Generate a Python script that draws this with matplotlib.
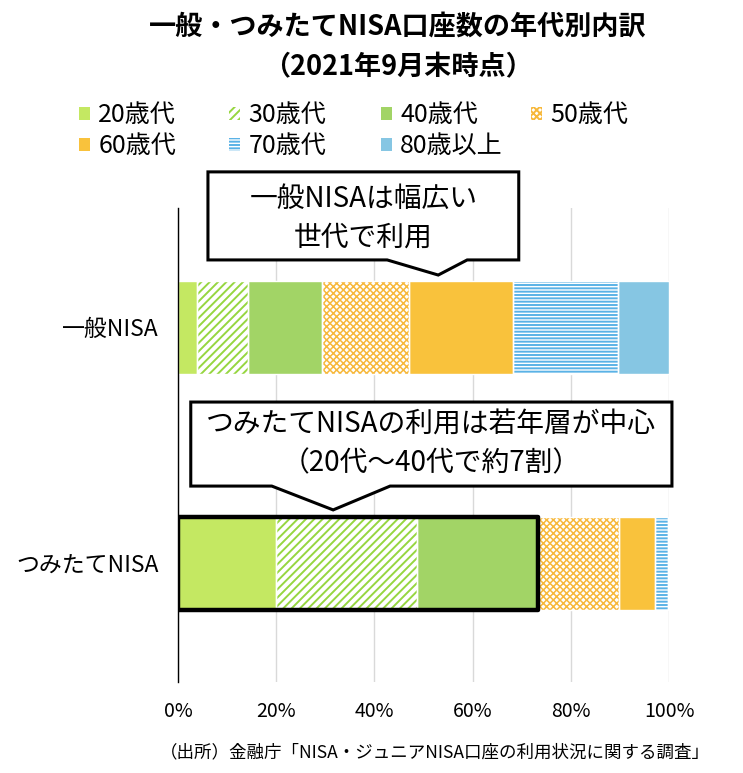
import matplotlib
matplotlib.use("Agg")
import matplotlib.pyplot as plt
from matplotlib.patches import Polygon, Patch

plt.rcParams['font.family'] = ['Noto Sans CJK JP', 'DejaVu Sans']
plt.rcParams['hatch.linewidth'] = 1.4

# ---- data ----
categories = ["一般NISA", "つみたてNISA"]
age_groups = ["20歳代", "30歳代", "40歳代", "50歳代", "60歳代", "70歳代", "80歳以上"]
general_nisa = [3.9, 10.4, 15.0, 17.7, 21.2, 21.5, 10.3]
tsumitate_nisa = [20.0, 28.7, 24.7, 16.4, 7.3, 2.6, 0.3]
xticks = [0, 20, 40, 60, 80, 100]
xtick_labels = ["0%", "20%", "40%", "60%", "80%", "100%"]

title = "一般・つみたてNISA口座数の年代別内訳\n（2021年9月末時点）"
callout1 = "一般NISAは幅広い\n世代で利用"
callout2 = "つみたてNISAの利用は若年層が中心\n（20代～40代で約7割）"
source = "（出所）金融庁「NISA・ジュニアNISA口座の利用状況に関する調査」"

# ---- styles ----
face = ["#C4E862", "white", "#A2D466", "white", "#F9C23C", "white", "#86C6E3"]
hatch_col = ["#C4E862", "#96D640", "#A2D466", "#F7B83A", "#F9C23C", "#5AB2E6", "#86C6E3"]
hatches = [None, "////", None, "xxxxx", None, "-----", None]
hatch_lw = [1.4, 1.4, 1.4, 1.1, 1.4, 1.4, 1.4]

W, H = 743, 773
fig = plt.figure(figsize=(W / 100, H / 100), dpi=100)
ax = fig.add_axes([178 / W, 1 - 682 / H, 491 / W, 474 / H])

series = [general_nisa, tsumitate_nisa]
ypos = list(range(len(categories)))
bar_h = 0.395


def set_hlw(p, lw):
    if hasattr(p, "set_hatch_linewidth"):
        try:
            p.set_hatch_linewidth(lw)
        except Exception:
            pass


handles = []
for i, lab in enumerate(age_groups):
    vals = [s[i] for s in series]
    lefts = [sum(s[:i]) for s in series]
    b = ax.barh(ypos, vals, left=lefts, height=bar_h, color=face[i],
                edgecolor=hatch_col[i], hatch=hatches[i], linewidth=0, zorder=2)
    for p in b:
        set_hlw(p, hatch_lw[i])
    ax.barh(ypos, vals, left=lefts, height=bar_h, fill=False,
            edgecolor="white", linewidth=1.0, zorder=3)
    hp = Patch(facecolor=face[i], edgecolor=hatch_col[i],
               hatch=hatches[i], linewidth=0, label=lab)
    set_hlw(hp, hatch_lw[i])
    handles.append(hp)

# thick outline around 20-40s of つみたてNISA
young = sum(tsumitate_nisa[:3])
ax.barh([1], [young], left=[0], height=bar_h, fill=False, edgecolor="black",
        linewidth=3.2, joinstyle="round", zorder=4)

ax.set_xlim(0, 100)
ax.set_ylim(1.502, -0.506)
ax.set_xticks(xticks)
ax.set_xticklabels(xtick_labels, fontsize=14)
ax.set_yticks(ypos)
ax.set_yticklabels(categories, fontsize=16.5)
ax.tick_params(axis="both", length=0)
ax.tick_params(axis="x", pad=14)
ax.tick_params(axis="y", pad=14)
ax.xaxis.grid(True, color="#D9D9D9", linewidth=1)
ax.set_axisbelow(True)
for s in ["top", "right", "bottom"]:
    ax.spines[s].set_visible(False)
ax.spines["left"].set_color("black")
ax.spines["left"].set_linewidth(1.0)
ax.spines["left"].set_zorder(5)


# ---- callouts ----
def callout(x0, x1, yt, yb, p0, p1, tx, ty, text, ty_text):
    pts = [(x0, yt), (x1, yt), (x1, yb), (p1, yb), (tx, ty), (p0, yb), (x0, yb)]
    poly = Polygon(pts, closed=True, facecolor="white", edgecolor="black",
                   linewidth=2.2, clip_on=False, zorder=6, joinstyle="miter")
    ax.add_patch(poly)
    ax.text((x0 + x1) / 2, ty_text, text, ha="center", va="center",
            fontsize=20, linespacing=1.35, zorder=7)


callout(6.1, 69.4, -0.659, -0.286, 42.6, 58.9, 53.0, -0.222, callout1, -0.462)
callout(2.6, 100.6, 0.316, 0.672, 19.1, 43.2, 31.6, 0.773, callout2, 0.494)

# ---- title ----
fig.text(398 / W, 1 - 47 / H, title, ha="center", va="center", fontsize=19.5,
         fontweight="bold", linespacing=1.55)

# ---- legend (4 uniform columns) ----
col_x = [79, 229, 381, 531]
for c in range(4):
    hs = [handles[k] for k in (c, c + 4) if k < len(handles)]
    fig.legend(handles=hs, loc="upper left",
               bbox_to_anchor=(col_x[c] / W, 1 - 102 / H),
               frameon=False, fontsize=18, handlelength=0.42,
               handleheight=0.42, handletextpad=0.35, labelspacing=0.2,
               borderpad=0, borderaxespad=0)

# ---- source ----
fig.text(160 / W, 1 - 752 / H, source, ha="left", va="center", fontsize=12.6)

fig.savefig("out.png", dpi=100)
